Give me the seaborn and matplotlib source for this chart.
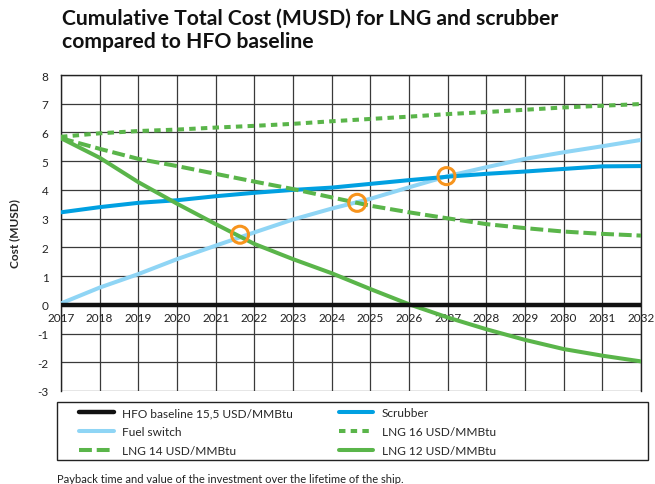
import matplotlib
matplotlib.use("Agg")
import matplotlib.pyplot as plt
import seaborn as sns
import pandas as pd
from matplotlib.lines import Line2D
from matplotlib.patches import Rectangle

years = list(range(2017, 2033))
hfo = [0] * 16
scrubber = [3.22, 3.40, 3.55, 3.64, 3.78, 3.90, 4.00, 4.08, 4.21, 4.34, 4.46, 4.56, 4.64, 4.73, 4.82, 4.83]
fuel_switch = [0.05, 0.60, 1.07, 1.59, 2.06, 2.52, 2.97, 3.35, 3.69, 4.09, 4.48, 4.79, 5.08, 5.31, 5.52, 5.74]
lng16 = [5.85, 5.97, 6.05, 6.10, 6.17, 6.23, 6.30, 6.39, 6.47, 6.55, 6.64, 6.71, 6.79, 6.87, 6.93, 6.99]
lng14 = [5.80, 5.43, 5.08, 4.83, 4.56, 4.29, 4.03, 3.74, 3.45, 3.22, 3.01, 2.81, 2.67, 2.55, 2.47, 2.41]
lng12 = [5.80, 5.12, 4.27, 3.52, 2.81, 2.12, 1.59, 1.10, 0.55, 0.02, -0.44, -0.85, -1.22, -1.54, -1.77, -1.97]
payback_x = [2021.63, 2024.66, 2026.97]
payback_y = [2.44, 3.55, 4.48]
y_ticks = list(range(-3, 9))

sns.set_style("white")
plt.rcParams["font.family"] = ["Lato", "DejaVu Sans"]

fig = plt.figure(figsize=(6.55, 4.85), dpi=100)
ax = fig.add_axes([61 / 655, 1 - 392 / 485, 580 / 655, 316 / 485])

GREEN = "#5ab54a"
styles = {
    "Fuel switch": dict(color="#8fd5f5", lw=2.9, ls="-"),
    "Scrubber": dict(color="#00a0e1", lw=2.9, ls="-"),
    "LNG 16 USD/MMBtu": dict(color=GREEN, lw=2.9, ls=(0, (1.6, 1.3))),
    "LNG 14 USD/MMBtu": dict(color=GREEN, lw=2.9, ls=(0, (3.2, 1.2))),
    "LNG 12 USD/MMBtu": dict(color=GREEN, lw=2.9, ls="-"),
    "HFO baseline 15,5 USD/MMBtu": dict(color="#111111", lw=3.2, ls="-"),
}
series = {
    "Fuel switch": fuel_switch,
    "Scrubber": scrubber,
    "LNG 16 USD/MMBtu": lng16,
    "LNG 14 USD/MMBtu": lng14,
    "LNG 12 USD/MMBtu": lng12,
    "HFO baseline 15,5 USD/MMBtu": hfo,
}
for name, vals in series.items():
    df = pd.DataFrame({"year": years, "value": vals})
    st = styles[name]
    sns.lineplot(data=df, x="year", y="value", ax=ax, color=st["color"],
                 linewidth=st["lw"], linestyle=st["ls"], zorder=3)

sns.scatterplot(x=payback_x, y=payback_y, ax=ax, s=150, facecolor="none",
                edgecolor="#f7941d", linewidth=2.2, zorder=5)

ax.set_xlim(2017, 2032)
ax.set_ylim(-3, 8)
ax.set_xticks(years)
ax.set_xticklabels([str(y) for y in years])
ax.set_yticks(y_ticks)
ax.set_yticklabels([str(v) for v in y_ticks])
ax.grid(True, color="#3a3a3a", lw=0.9)
ax.set_axisbelow(True)
ax.spines["bottom"].set_position(("data", 0))
ax.spines["bottom"].set_visible(False)
for s in ["left", "right", "top"]:
    ax.spines[s].set_color("#222222")
    ax.spines[s].set_linewidth(1.0)
ax.tick_params(axis="x", length=0, pad=5, labelsize=8.5, colors="#222222")
ax.tick_params(axis="y", length=0, pad=9, labelsize=8.5, colors="#222222")
ax.set_xlabel("")
ax.set_ylabel("Cost (MUSD)", fontsize=8.5, fontweight="bold", labelpad=12)

fig.text(62 / 655, 1 - 9 / 485,
         "Cumulative Total Cost (MUSD) for LNG and scrubber\ncompared to HFO baseline",
         fontsize=15.2, fontweight="bold", va="top", ha="left", linespacing=1.2,
         color="#111111")

order = ["HFO baseline 15,5 USD/MMBtu", "Fuel switch", "LNG 14 USD/MMBtu",
         "Scrubber", "LNG 16 USD/MMBtu", "LNG 12 USD/MMBtu"]
handles = [Line2D([], [], color=styles[n]["color"], lw=styles[n]["lw"],
                  linestyle=styles[n]["ls"]) for n in order]
fig.legend(handles, order, loc="upper left", bbox_to_anchor=(74 / 655, 1 - 403 / 485),
           ncol=2, frameon=False, fontsize=8.6, handlelength=2.9,
           handletextpad=0.7, columnspacing=3.8, labelspacing=0.66,
           borderaxespad=0, borderpad=0.45)
fig.patches.append(Rectangle((57 / 655, 1 - 461 / 485), 591 / 655, 58 / 485,
                             transform=fig.transFigure, fill=False,
                             edgecolor="#222222", lw=1.0))

fig.text(57 / 655, 1 - 474 / 485,
         "Payback time and value of the investment over the lifetime of the ship.",
         fontsize=8, va="top", ha="left", color="#222222")

fig.savefig("out.png", dpi=100)
